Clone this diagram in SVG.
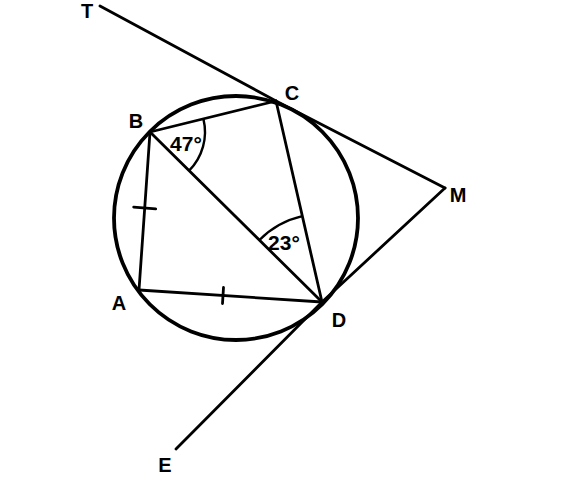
<svg xmlns="http://www.w3.org/2000/svg" width="563" height="488" viewBox="0 0 563 488">
<style>
.ln{fill:none;stroke:#000;stroke-width:2.8;stroke-linecap:round;stroke-linejoin:round}
.cir{fill:none;stroke:#000;stroke-width:3.8}
.arc{fill:none;stroke:#000;stroke-width:2.4}
.lbl{font-family:"Liberation Sans",Arial,sans-serif;font-weight:bold;font-size:20px;fill:#000}
.ang{font-family:"Liberation Sans",Arial,sans-serif;font-weight:bold;font-size:21px;fill:#000}
</style>
<rect width="563" height="488" fill="#fff"/>
<g id="circle"><circle class="cir" cx="236" cy="218" r="122"/></g>
<g id="connectors">
<polyline class="ln" points="100,6 276,101 445,188"/>
<polyline class="ln" points="176,449 322,302 445,188"/>
<line class="ln" x1="150" y1="132" x2="276" y2="101"/>
<line class="ln" x1="276" y1="101" x2="322" y2="302"/>
<line class="ln" x1="150" y1="132" x2="322" y2="302"/>
<line class="ln" x1="150" y1="132" x2="139" y2="290"/>
<line class="ln" x1="139" y1="290" x2="322" y2="302"/>
<line class="ln" x1="133.7" y1="207.2" x2="155.7" y2="208.8"/>
<line class="ln" x1="223.5" y1="287.5" x2="222.5" y2="303.5"/>
<path class="arc" d="M203.4,118.9 A55,55 0 0 1 189.1,170.7"/>
<path class="arc" d="M259.5,240 A88,88 0 0 1 302.3,216.2"/>
</g>
<g id="T"><text class="lbl" x="87" y="18" text-anchor="middle">T</text></g>
<g id="C"><text class="lbl" x="292" y="100" text-anchor="middle">C</text></g>
<g id="B"><text class="lbl" x="136" y="128" text-anchor="middle">B</text></g>
<g id="M"><text class="lbl" x="458" y="202" text-anchor="middle">M</text></g>
<g id="A"><text class="lbl" x="119" y="310" text-anchor="middle">A</text></g>
<g id="D"><text class="lbl" x="339" y="327" text-anchor="middle">D</text></g>
<g id="E"><text class="lbl" x="165" y="472" text-anchor="middle">E</text></g>
<g id="angleB"><text class="ang" x="186" y="151" text-anchor="middle">47°</text></g>
<g id="angleD"><text class="ang" x="284" y="250" text-anchor="middle">23°</text></g>
</svg>
